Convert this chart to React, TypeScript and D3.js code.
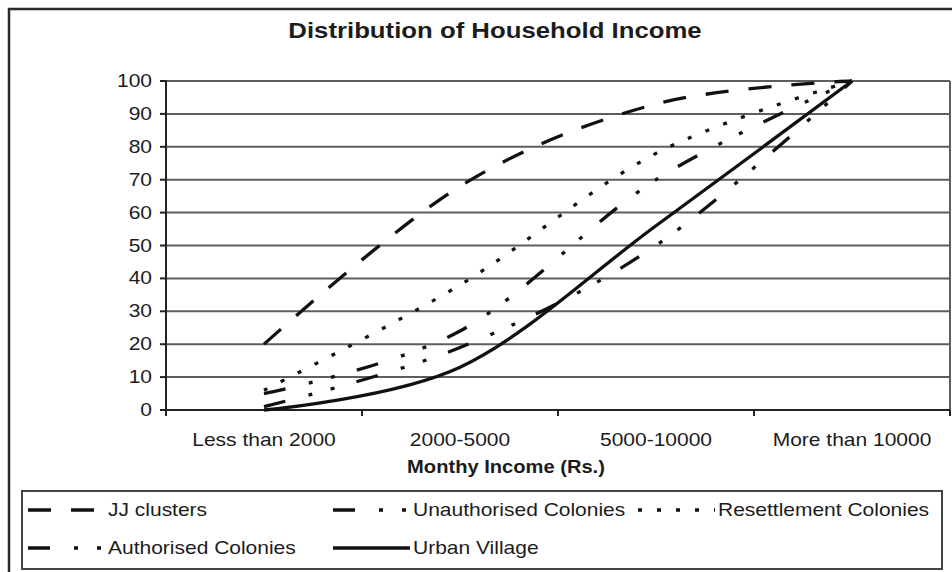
import React, { Component, createRef } from 'react';
import * as d3 from 'd3';

// monthly income brackets (x axis)
const categories = ['Less than 2000', '2000-5000', '5000-10000', 'More than 10000'];

// cumulative share of households (%)
const jjClusters = [20, 68, 93, 100];
const unauthorisedColonies = [5, 24, 70, 100];
const resettlementColonies = [6, 38, 78, 100];
const authorisedColonies = [1, 19, 50, 100];
const urbanVillage = [0, 13, 56, 100];

const yTicks = [0, 10, 20, 30, 40, 50, 60, 70, 80, 90, 100];

const seriesNames = ['JJ clusters', 'Unauthorised Colonies', 'Resettlement Colonies', 'Authorised Colonies', 'Urban Village'];
const seriesValues = [jjClusters, unauthorisedColonies, resettlementColonies, authorisedColonies, urbanVillage];
const seriesDash = ['23,20', '22,24,4,19,4,23', '4,15', '22,24,4,19,4,23', null];

const FONT = '"Liberation Sans", Arial, sans-serif';
const INK = '#1c1c1c';

class IncomeChart extends Component<{ width: number; height: number }> {
	svg = createRef<SVGSVGElement>();
	plot = { left: 166, right: 950, top: 81, bottom: 410 };

	x = d3.scaleBand().domain(categories).range([this.plot.left, this.plot.right]);
	y = d3.scaleLinear().domain([0, 100]).range([this.plot.bottom, this.plot.top]);

	// text in the source is a bit wider than the installed fonts, so stretch it
	label(g, txt, px, py, size, sx, anchor, bold = false) {
		return g.append('text')
			.attr('transform', `translate(${px},${py}) scale(${sx},1)`)
			.attr('text-anchor', anchor)
			.attr('font-family', FONT)
			.attr('font-size', size)
			.attr('font-weight', bold ? 'bold' : 'normal')
			.attr('fill', INK)
			.text(txt);
	}

	draw() {
		const svg = d3.select(this.svg.current);
		svg.selectAll('*').remove();
		const { left, right, top, bottom } = this.plot;
		const x = this.x;
		const y = this.y;
		const cx = (c) => x(c) + x.bandwidth() / 2;

		// chart frame
		svg.append('rect')
			.attr('x', 9).attr('y', 9).attr('width', 980).attr('height', 600)
			.attr('fill', '#fff').attr('stroke', '#2a2a2a').attr('stroke-width', 2.5);

		this.label(svg, 'Distribution of Household Income', 495, 38, 23, 1.12, 'middle', true);

		// gridlines
		svg.append('g')
			.selectAll('line')
			.data(yTicks.filter(t => t > 0))
			.join('line')
			.attr('x1', left).attr('x2', right)
			.attr('y1', d => y(d)).attr('y2', d => y(d))
			.attr('stroke', '#5e5e5e').attr('stroke-width', 2);

		svg.append('line')
			.attr('x1', right).attr('x2', right).attr('y1', top).attr('y2', bottom)
			.attr('stroke', '#5e5e5e').attr('stroke-width', 2);

		// y axis
		const ya = svg.append('g');
		ya.append('line')
			.attr('x1', left).attr('x2', left).attr('y1', top - 1).attr('y2', bottom)
			.attr('stroke', '#222').attr('stroke-width', 2);
		ya.selectAll('.tick')
			.data(yTicks)
			.join('line')
			.attr('class', 'tick')
			.attr('x1', left - 6).attr('x2', left)
			.attr('y1', d => y(d)).attr('y2', d => y(d))
			.attr('stroke', '#222').attr('stroke-width', 2);
		yTicks.forEach(t => {
			this.label(ya, String(t), 152, y(t) + 6, 17.5, 1.2, 'end');
		});

		// x axis
		const xa = svg.append('g');
		xa.append('line')
			.attr('x1', left - 6).attr('x2', right).attr('y1', bottom).attr('y2', bottom)
			.attr('stroke', '#222').attr('stroke-width', 2);
		const edges = categories.map(c => x(c)).concat([right]);
		xa.selectAll('.tick')
			.data(edges)
			.join('line')
			.attr('class', 'tick')
			.attr('x1', d => d).attr('x2', d => d)
			.attr('y1', bottom).attr('y2', bottom + 6)
			.attr('stroke', '#222').attr('stroke-width', 2);
		categories.forEach(c => {
			this.label(xa, c, cx(c), 446, 17.5, 1.2, 'middle');
		});
		this.label(svg, 'Monthy Income (Rs.)', 506, 473, 17.5, 1.15, 'middle', true);

		// series lines
		const line = d3.line<number>()
			.x((d, i) => cx(categories[i]))
			.y(d => y(d))
			.curve(d3.curveCatmullRom.alpha(0));

		svg.append('g')
			.selectAll('path')
			.data(seriesValues)
			.join('path')
			.attr('d', d => line(d))
			.attr('fill', 'none')
			.attr('stroke', '#111')
			.attr('stroke-width', 3.3)
			.attr('stroke-dasharray', (d, i) => seriesDash[i]);

		// legend
		const lg = svg.append('g');
		lg.append('rect')
			.attr('x', 22).attr('y', 491).attr('width', 920).attr('height', 78)
			.attr('fill', '#fff').attr('stroke', '#444').attr('stroke-width', 2);
		seriesNames.forEach((name, i) => {
			const lx = 28 + (i % 3) * 305;
			const ly = i < 3 ? 510 : 548;
			lg.append('line')
				.attr('x1', lx).attr('x2', lx + 77).attr('y1', ly).attr('y2', ly)
				.attr('stroke', '#111').attr('stroke-width', 3.3)
				.attr('stroke-dasharray', seriesDash[i]);
			this.label(lg, name, lx + 80, ly + 6, 17.5, 1.2, 'start');
		});
	}

	componentDidMount() {
		this.draw();
	}

	render() {
		return (
			<svg ref={this.svg} width={this.props.width} height={this.props.height}
				style={{ display: 'block' }} />
		);
	}
}

export default function App() {
	return (
		<div style={{ position: 'absolute', left: 0, top: 0, background: '#fff' }}>
			<IncomeChart width={952} height={572} />
		</div>
	);
}
